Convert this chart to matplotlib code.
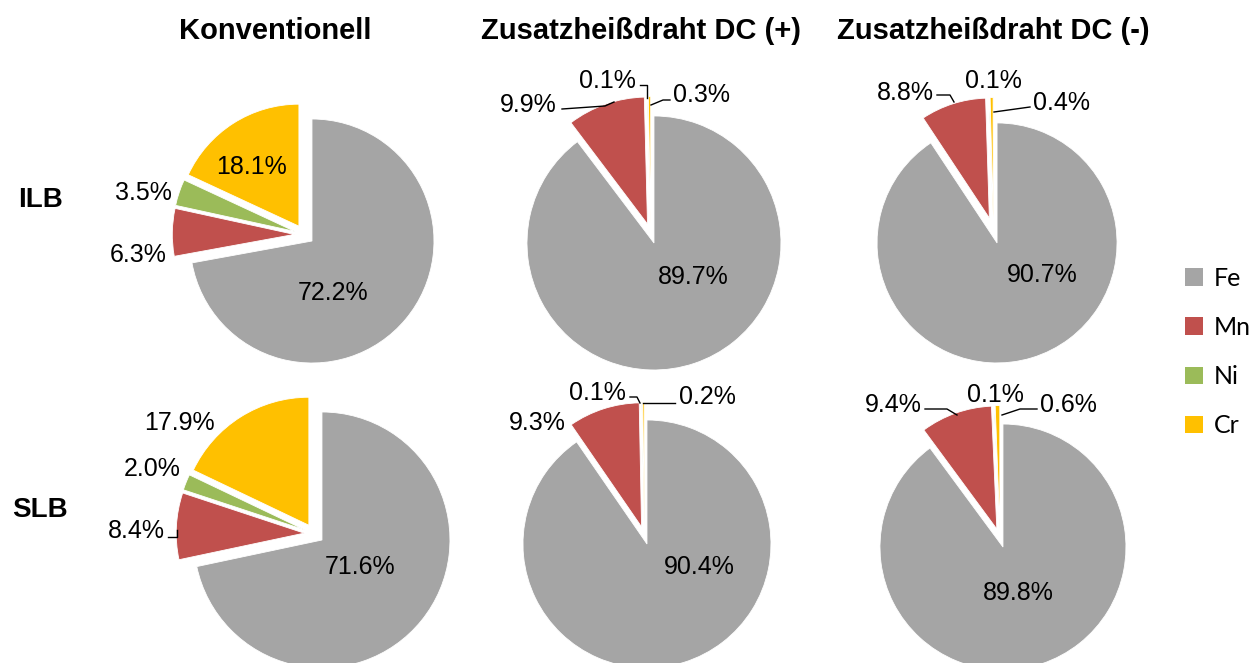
import matplotlib
matplotlib.use("Agg")
import matplotlib.pyplot as plt
from matplotlib.patches import Patch

# ---------------- data ----------------
elements = ["Fe", "Mn", "Ni", "Cr"]
col_titles = ["Konventionell", "Zusatzheißdraht DC (+)", "Zusatzheißdraht DC (-)"]
row_titles = ["ILB", "SLB"]

conv_ilb = [72.2, 6.3, 3.5, 18.1]
conv_slb = [71.6, 8.4, 2.0, 17.9]
dcp_ilb = [89.7, 9.9, 0.1, 0.3]
dcp_slb = [90.4, 9.3, 0.1, 0.2]
dcm_ilb = [90.7, 8.8, 0.1, 0.4]
dcm_slb = [89.8, 9.4, 0.1, 0.6]

colors = ["#A5A5A5", "#C0504D", "#9BBB59", "#FFC000"]

# ---------------- layout (pixels) ----------------
W, H = 1254, 663
FONT = "Liberation Sans"

def Y(py):
    return H - py

# per pie: center, radius, explode distance, label positions, leader lines
pies = [
    dict(vals=conv_ilb, c=(304.3, 234.6), r=122, d=10,
         lab=[(333, 290), (138, 253), (143, 190), (251, 164)], lines=[]),
    dict(vals=dcp_ilb, c=(650.8, 233.5), r=127, d=10,
         lab=[(693, 275), (528, 102), (607, 78), (701, 93)],
         lines=[[(562, 109), (605, 106), (614, 102)],
                [(640, 85), (647, 85), (647, 98)],
                [(670, 100), (663, 100), (651, 105)]]),
    dict(vals=dcm_ilb, c=(993.3, 230.5), r=120, d=13,
         lab=[(1042, 272), (905, 90), (993, 78), (1062, 100)],
         lines=[[(937, 95), (950, 95), (954, 102)],
                [(1030, 107), (994, 112)]]),
    dict(vals=conv_slb, c=(314.2, 533.7), r=128, d=10,
         lab=[(360, 565), (136, 529), (152, 467), (179, 420)],
         lines=[[(168, 537), (177, 537), (177, 530)]]),
    dict(vals=dcp_slb, c=(644.3, 535.4), r=124, d=9,
         lab=[(699, 565), (537, 420), (597, 390), (707, 395)],
         lines=[[(630, 397), (637, 397), (640, 403)],
                [(675, 403), (643, 403)]]),
    dict(vals=dcm_slb, c=(1000, 538), r=123, d=9.5,
         lab=[(1018, 590), (893, 402), (995, 393), (1068, 403)],
         lines=[[(925, 409), (947, 409), (957, 415)],
                [(1037, 409), (1020, 409), (1002, 415)]]),
]

fig = plt.figure(figsize=(W / 100, H / 100), dpi=100)
ax = fig.add_axes([0, 0, 1, 1])

for p in pies:
    cx, cy = p["c"]
    ax.pie(p["vals"], colors=colors, startangle=90, counterclock=False,
           center=(cx, Y(cy)), radius=p["r"], explode=[p["d"]] * 4,
           wedgeprops=dict(edgecolor="white", linewidth=0.6))
    for v, (lx, ly) in zip(p["vals"], p["lab"]):
        ax.text(lx, Y(ly), f"{v:.1f}%", ha="center", va="center_baseline",
                fontsize=18, family=FONT, color="black")
    for ln in p["lines"]:
        ax.plot([q[0] for q in ln], [Y(q[1]) for q in ln], color="black", lw=1.0)

ax.set_xlim(0, W)
ax.set_ylim(0, H)
ax.set_aspect("auto")
ax.axis("off")

# column and row titles
for t, x in zip(col_titles, [275, 641, 993]):
    ax.text(x, Y(28), t, ha="center", va="center_baseline", fontsize=21,
            fontweight="bold", family=FONT)
for t, y in zip(row_titles, [197, 507]):
    ax.text(40, Y(y), t, ha="center", va="center_baseline", fontsize=20,
            fontweight="bold", family=FONT)

handles = [Patch(facecolor=c, edgecolor="none") for c in colors]
leg = ax.legend(handles, elements, loc="center left",
                bbox_to_anchor=(1175 / W, 1 - 352 / H), frameon=False,
                prop=dict(family="Lato", size=18), handlelength=0.7,
                handleheight=0.7, handletextpad=0.45, labelspacing=1.05,
                borderaxespad=0)

fig.savefig("out.png", dpi=100)
